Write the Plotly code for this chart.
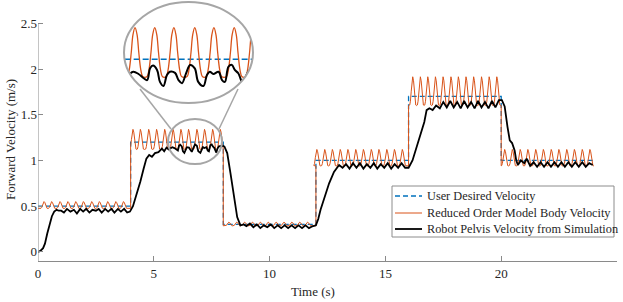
import numpy as np
import plotly.graph_objects as go

# ---------------- data ----------------
cmd_t = [0, 4, 4, 8, 8, 12, 12, 16, 16, 20, 20, 24]
cmd_v = [0.5, 0.5, 1.2, 1.2, 0.3, 0.3, 1.0, 1.0, 1.7, 1.7, 1.0, 1.0]

seg_start = [0, 4, 8, 12, 16, 20]
seg_end = [4, 8, 12, 16, 20, 24]
rom_peak_v = [0.55, 1.34, 0.325, 1.12, 1.915, 1.12]
rom_trough_v = [0.475, 1.12, 0.285, 0.94, 1.60, 0.94]
rom_peaks_a = [0.26, 0.59, 0.95, 1.29, 1.63, 1.96, 2.32, 2.65, 3.01, 3.36, 3.69]
rom_peaks_b = [4.10, 4.42, 4.78, 5.12, 5.47, 5.83, 6.17, 6.50, 6.86, 7.19, 7.54, 7.87]
rom_peaks_c = [8.24, 8.58, 8.92, 9.26, 9.60, 9.94, 10.28, 10.62, 10.96, 11.30, 11.64]
rom_peaks_d = [12.04, 12.38, 12.71, 13.05, 13.38, 13.72, 14.05, 14.39, 14.72, 15.06, 15.39, 15.73]
rom_peaks_e = [16.18, 16.51, 16.83, 17.16, 17.49, 17.83, 18.15, 18.48, 18.81, 19.15, 19.48, 19.81]
rom_peaks_f = [20.15, 20.48, 20.82, 21.15, 21.49, 21.82, 22.16, 22.49, 22.83, 23.16, 23.50, 23.83]

black_pts = [
    (0.00, 0.00), (0.10, 0.01), (0.22, 0.04), (0.30, 0.09), (0.40, 0.20), (0.50, 0.30),
    (0.60, 0.39), (0.70, 0.44), (0.80, 0.46), (0.90, 0.45),
    (1.00, 0.45), (1.12, 0.43), (1.25, 0.47), (1.40, 0.44), (1.55, 0.46), (1.68, 0.42),
    (1.82, 0.47), (1.95, 0.44), (2.08, 0.47), (2.22, 0.43), (2.35, 0.46), (2.50, 0.45),
    (2.62, 0.47), (2.75, 0.43), (2.90, 0.47), (3.03, 0.44), (3.17, 0.47), (3.30, 0.43),
    (3.45, 0.47), (3.58, 0.44), (3.72, 0.47), (3.85, 0.43), (3.97, 0.44),
    (4.10, 0.50), (4.27, 0.64), (4.42, 0.77), (4.56, 0.91), (4.68, 1.02), (4.80, 1.06),
    (4.92, 1.04), (5.05, 1.08), (5.20, 1.09), (5.35, 1.13), (5.45, 1.10), (5.55, 1.14),
    (5.64, 1.12), (5.71, 1.13), (5.80, 1.145), (5.89, 1.135), (5.98, 1.116), (6.04, 1.108),
    (6.09, 1.16), (6.14, 1.172), (6.21, 1.153), (6.26, 1.10), (6.32, 1.082), (6.38, 1.13),
    (6.43, 1.145), (6.52, 1.14), (6.58, 1.108), (6.64, 1.094), (6.71, 1.138), (6.78, 1.175),
    (6.86, 1.16), (6.92, 1.10), (7.01, 1.082), (7.07, 1.13), (7.12, 1.145), (7.18, 1.135),
    (7.27, 1.145), (7.33, 1.108), (7.38, 1.10), (7.44, 1.167), (7.50, 1.175), (7.55, 1.153),
    (7.61, 1.138), (7.70, 1.086), (7.75, 1.13), (7.81, 1.153), (7.90, 1.16), (7.98, 1.16),
    (8.05, 1.15), (8.17, 1.08), (8.31, 0.86), (8.46, 0.60), (8.60, 0.38), (8.74, 0.29),
    (8.88, 0.30), (9.00, 0.28), (9.15, 0.31), (9.30, 0.27), (9.45, 0.30), (9.60, 0.26),
    (9.75, 0.29), (9.90, 0.27), (10.05, 0.30), (10.20, 0.26), (10.35, 0.29), (10.50, 0.26),
    (10.65, 0.29), (10.80, 0.26), (10.95, 0.29), (11.10, 0.26), (11.25, 0.29), (11.40, 0.26),
    (11.55, 0.29), (11.70, 0.26), (11.85, 0.28), (12.00, 0.29),
    (12.10, 0.36), (12.20, 0.46), (12.35, 0.57), (12.57, 0.75), (12.78, 0.875), (13.00, 0.95),
    (13.15, 0.92), (13.30, 0.96), (13.45, 0.91), (13.60, 0.97), (13.75, 0.92), (13.90, 0.97),
    (14.05, 0.91), (14.20, 0.96), (14.35, 0.92), (14.50, 0.97), (14.65, 0.91), (14.80, 0.96),
    (14.95, 0.92), (15.10, 0.97), (15.25, 0.91), (15.40, 0.96), (15.55, 0.92), (15.70, 0.97),
    (15.85, 0.92), (16.00, 0.92),
    (16.17, 1.00), (16.39, 1.19), (16.53, 1.30), (16.68, 1.42), (16.78, 1.55), (16.90, 1.57),
    (17.04, 1.55), (17.19, 1.60), (17.35, 1.57), (17.50, 1.64), (17.65, 1.58), (17.80, 1.65),
    (17.95, 1.58), (18.10, 1.64), (18.25, 1.57), (18.40, 1.65), (18.55, 1.58), (18.70, 1.64),
    (18.85, 1.57), (19.00, 1.65), (19.15, 1.58), (19.30, 1.64), (19.45, 1.57), (19.60, 1.65),
    (19.75, 1.58), (19.90, 1.66), (20.03, 1.66),
    (20.15, 1.59), (20.27, 1.37), (20.37, 1.22), (20.47, 1.19), (20.58, 1.11), (20.65, 1.00),
    (20.72, 0.95), (20.85, 1.00), (21.00, 0.97), (21.10, 1.02), (21.25, 0.94), (21.40, 0.98),
    (21.55, 0.93), (21.70, 0.98), (21.85, 0.93), (22.00, 0.98), (22.15, 0.93), (22.30, 0.98),
    (22.45, 0.93), (22.60, 0.98), (22.75, 0.93), (22.90, 0.98), (23.05, 0.93), (23.20, 0.98),
    (23.35, 0.93), (23.50, 0.98), (23.65, 0.93), (23.80, 0.97), (23.95, 0.95),
]

x_ticks = [0, 5, 10, 15, 20, 25]
y_ticks = [0, 0.5, 1, 1.5, 2, 2.5]
y_ticktext = ["0", "0.5", "1", "1.5", "2", "2.5"]
names = ["User Desired Velocity", "Reduced Order Model Body Velocity",
         "Robot Pelvis Velocity from Simulation"]

# ---------------- build ROM vertex list (peak shape is styling) ----------------
PEAK_OFF = [-0.13, -0.10, -0.065, -0.035, 0.0, 0.035, 0.065, 0.10, 0.13]
PEAK_FR = [0.02, 0.15, 0.50, 0.86, 1.0, 0.86, 0.50, 0.15, 0.02]
all_peaks = [rom_peaks_a, rom_peaks_b, rom_peaks_c, rom_peaks_d, rom_peaks_e, rom_peaks_f]
rom_t, rom_v = [], []
for s0, s1, pk, hi, lo in zip(seg_start, seg_end, all_peaks, rom_peak_v, rom_trough_v):
    rom_t.append(s0); rom_v.append(lo)
    prev = None
    for p in pk:
        if prev is not None:
            rom_t.append((prev + p) / 2); rom_v.append(lo)
        for o, f in zip(PEAK_OFF, PEAK_FR):
            rom_t.append(p + o); rom_v.append(lo + f * (hi - lo))
        prev = p
    rom_t.append(s1); rom_v.append(lo)

black_t = [p[0] for p in black_pts]
black_v = [p[1] for p in black_pts]

# ---------------- layout geometry ----------------
W, H = 623, 302
ML, MR, MT, MB = 38, 6, 0, 41
PW, PH = W - ML - MR, H - MT - MB
Y0 = H - MB  # pixel row of the plot bottom


def px(x, y):
    return (x - ML) / PW, (Y0 - y) / PH


BLUE, ORANGE, BLACK = "#0072BD", "#D95319", "#000000"
AX = "#8a8a8a"
TXT = "#262626"
FONT = "Liberation Serif, Tinos, Times New Roman, serif"
styles = [dict(color=BLUE, width=1.3, dash="5px,3px"),
          dict(color=ORANGE, width=1.0),
          dict(color=BLACK, width=1.8)]

fig = go.Figure()
for xs, ys, nm, st in zip([cmd_t, rom_t, black_t], [cmd_v, rom_v, black_v], names, styles):
    fig.add_trace(go.Scatter(x=xs, y=ys, mode="lines", name=nm, line=st, showlegend=False))

# inset (magnified) copies
fig.add_trace(go.Scatter(x=cmd_t, y=cmd_v, mode="lines", xaxis="x2", yaxis="y2",
                         showlegend=False, line=dict(color=BLUE, width=1.5, dash="6px,3px")))
fig.add_trace(go.Scatter(x=rom_t, y=rom_v, mode="lines", xaxis="x2", yaxis="y2",
                         showlegend=False, line=dict(color=ORANGE, width=1.3, shape="spline")))
fig.add_trace(go.Scatter(x=black_t, y=black_v, mode="lines", xaxis="x2", yaxis="y2",
                         showlegend=False, line=dict(color=BLACK, width=2.0, shape="spline")))

# ellipse geometry (pixels)
big = (124, 2, 253, 103)
small = (168, 119, 222, 164)
bx0, by0 = px(big[0], big[3])
bx1, by1 = px(big[2], big[1])
sx0, sy0 = px(small[0], small[3])
sx1, sy1 = px(small[2], small[1])

# white mask: rectangle minus ellipse (evenodd) to clip the inset to the circle
cx, cy = (bx0 + bx1) / 2, (by0 + by1) / 2
rx, ry = (bx1 - bx0) / 2, (by1 - by0) / 2
k = 0.5523
pad_x, pad_y = 3 / PW, 3 / PH
rect = (f"M{bx0 - pad_x},{by0 - pad_y} L{bx1 + pad_x},{by0 - pad_y} "
        f"L{bx1 + pad_x},{by1 + pad_y} L{bx0 - pad_x},{by1 + pad_y} Z ")
ell = (f"M{cx + rx},{cy} "
       f"C{cx + rx},{cy + k * ry} {cx + k * rx},{cy + ry} {cx},{cy + ry} "
       f"C{cx - k * rx},{cy + ry} {cx - rx},{cy + k * ry} {cx - rx},{cy} "
       f"C{cx - rx},{cy - k * ry} {cx - k * rx},{cy - ry} {cx},{cy - ry} "
       f"C{cx + k * rx},{cy - ry} {cx + rx},{cy - k * ry} {cx + rx},{cy} Z")

GREY = "#a6a6a6"
shapes = [
    dict(type="path", xref="paper", yref="paper", path=rect + ell, fillrule="evenodd",
         fillcolor="white", line=dict(width=0), layer="above"),
    dict(type="circle", xref="paper", yref="paper", x0=bx0, y0=by0, x1=bx1, y1=by1,
         line=dict(color=GREY, width=2), layer="above"),
    dict(type="circle", xref="paper", yref="paper", x0=sx0, y0=sy0, x1=sx1, y1=sy1,
         line=dict(color=GREY, width=2), layer="above"),
]
for (xa, ya, xb, yb) in [(140, 89, 171, 129), (238, 89, 219, 129)]:
    p0 = px(xa, ya); p1 = px(xb, yb)
    shapes.append(dict(type="line", xref="paper", yref="paper", x0=p0[0], y0=p0[1],
                       x1=p1[0], y1=p1[1], line=dict(color=GREY, width=1.5), layer="above"))
# left axis line only up to 2.5
shapes.append(dict(type="line", xref="x", yref="y", x0=0, x1=0, y0=-0.1, y1=2.5,
                   line=dict(color=AX, width=1), layer="above"))

# legend box drawn by hand for exact placement
lx0, ly0 = px(392, 237)
lx1, ly1 = px(614, 186)
shapes.append(dict(type="rect", xref="paper", yref="paper", x0=lx0, y0=ly0, x1=lx1, y1=ly1,
                   line=dict(color="#8c8c8c", width=1), fillcolor="white", layer="above"))
annotations = []
for row_y, nm, st in zip([196, 213, 229], names, styles):
    a = px(395, row_y); b = px(422, row_y)
    shapes.append(dict(type="line", xref="paper", yref="paper", x0=a[0], y0=a[1],
                       x1=b[0], y1=b[1], line=st, layer="above"))
    tpos = px(425, row_y)
    annotations.append(dict(text=nm, xref="paper", yref="paper", x=tpos[0], y=tpos[1],
                            showarrow=False, xanchor="left", yanchor="middle",
                            font=dict(family=FONT, size=12.3, color=TXT)))

annotations += [
    dict(text="Time (s)", xref="paper", yref="paper", x=px(313, 0)[0], y=px(0, 291)[1],
         showarrow=False, xanchor="center", yanchor="middle",
         font=dict(family=FONT, size=13, color=TXT)),
    dict(text="Forward Velocity (m/s)", xref="paper", yref="paper", x=px(10, 0)[0],
         y=px(0, 140)[1], showarrow=False, textangle=-90, xanchor="center",
         yanchor="middle", font=dict(family=FONT, size=13, color=TXT)),
]

# inset axis ranges
ix0, ix1 = 5.64, 7.864
iy0, iy1 = 1.0066, 1.4535

ymax = 2.5 + 23.3 / ((Y0 - 23.3) / 2.6)

fig.update_layout(
    width=W, height=H, margin=dict(l=ML, r=MR, t=MT, b=MB, autoexpand=False),
    paper_bgcolor="white", plot_bgcolor="white",
    font=dict(family=FONT, size=13, color=TXT),
    showlegend=False,
    xaxis=dict(range=[0, 25], tickvals=x_ticks, ticks="inside", ticklen=5, tickcolor=AX,
               showline=True, linecolor=AX, linewidth=1, showgrid=False, zeroline=False,
               mirror=False, automargin=False),
    yaxis=dict(range=[-0.1, ymax], tickvals=y_ticks, ticktext=y_ticktext, ticks="inside",
               ticklen=5, tickcolor=AX, showline=False, showgrid=False, zeroline=False,
               automargin=False),
    xaxis2=dict(domain=[bx0, bx1], anchor="y2", range=[ix0, ix1], visible=False),
    yaxis2=dict(domain=[by0, by1], anchor="x2", range=[iy0, iy1], visible=False),
    shapes=shapes,
    annotations=annotations,
)

fig.write_html("out.html", config={"displayModeBar": False},
               post_script="document.body.style.margin='0px';")
